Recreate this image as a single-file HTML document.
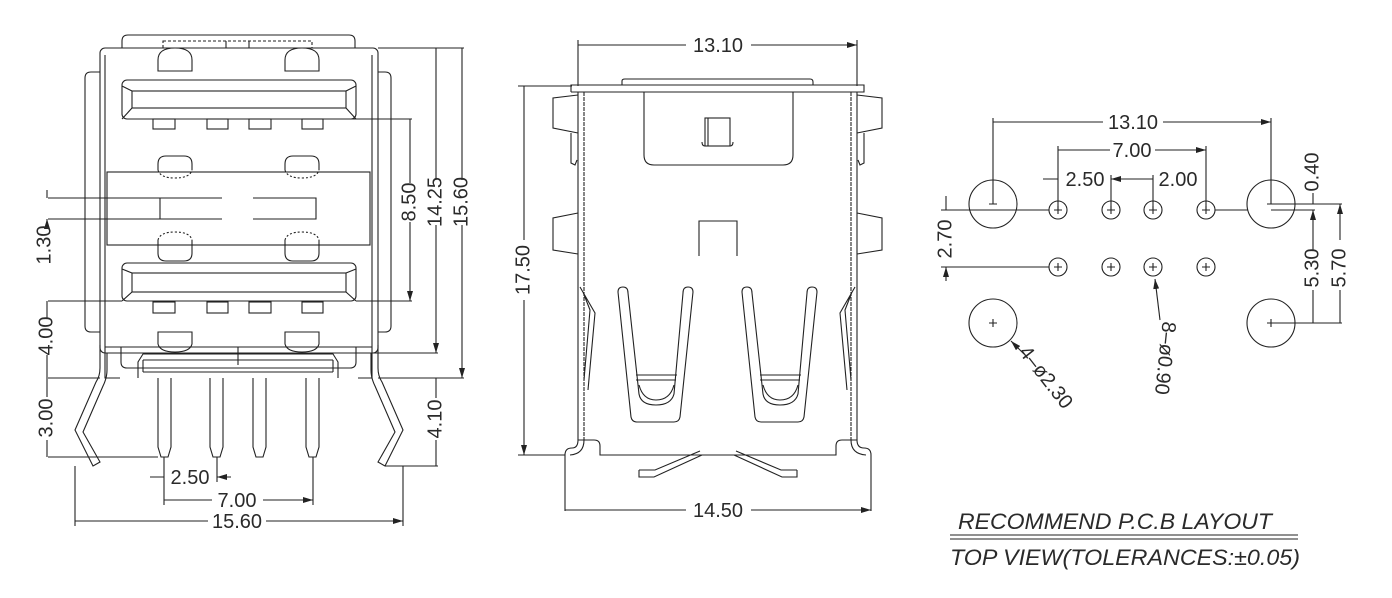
<!DOCTYPE html>
<html><head><meta charset="utf-8"><style>
html,body{margin:0;padding:0;background:#fff;}
svg{display:block;}
text{font-family:"Liberation Sans",sans-serif;fill:#2a2a2a;}
</style></head><body>
<svg width="1392" height="598" viewBox="0 0 1392 598" xmlns="http://www.w3.org/2000/svg">
<defs>
<marker id="a" viewBox="0 0 10 6" refX="10" refY="3" markerWidth="10" markerHeight="6" markerUnits="userSpaceOnUse" orient="auto-start-reverse"><path d="M0,0 L10,3 L0,6 Z" fill="#222"/></marker>
</defs>
<g fill="none" stroke="#222" stroke-width="1.1">
<!-- ================= LEFT VIEW ================= -->
<path d="M122,48 V41 Q122,35 128,35 H349 Q355,35 355,41 V48"/>
<rect x="163" y="41" width="149" height="7" stroke-dasharray="3,2"/>
<path d="M226,41 V48 M249,41 V48"/>
<rect x="100" y="48" width="278" height="305" rx="5"/>
<path d="M105,55 V353 M372,55 V353"/>
<path d="M100,72 H91 Q85,72 85,78 V326 Q85,332 91,332 H100"/>
<path d="M378,72 H385 Q391,72 391,78 V326 Q391,332 385,332 H378"/>
<rect x="122" y="80" width="234" height="39" rx="5"/>
<rect x="132" y="91" width="214" height="17"/>
<path d="M122,86 L132,91 M356,86 L346,91 M122,119 L132,108 M356,119 L346,108"/>
<rect x="122" y="263" width="234" height="38" rx="5"/>
<rect x="132" y="273" width="214" height="19"/>
<path d="M122,269 L132,273 M356,269 L346,273 M122,301 L132,292 M356,301 L346,292"/>
<rect x="153" y="119" width="22" height="10"/><rect x="207" y="119" width="21" height="10"/><rect x="249" y="119" width="22" height="10"/><rect x="302" y="119" width="21" height="10"/>
<rect x="153" y="302" width="22" height="11"/><rect x="207" y="302" width="21" height="11"/><rect x="249" y="302" width="22" height="11"/><rect x="302" y="302" width="21" height="11"/>
<path d="M158,71 V60 Q158,48 175,48 Q192,48 192,60 V71 Z"/>
<path d="M285,71 V60 Q285,48 302,48 Q319,48 319,60 V71 Z"/>
<path d="M158,170 V164 Q158,156 166,156 H184 Q192,156 192,164 V170"/>
<path d="M285,170 V164 Q285,156 293,156 H311 Q319,156 319,164 V170"/>
<path d="M158,170 Q160,178 175,178 Q190,178 192,170 M285,170 Q287,178 302,178 Q317,178 319,170" stroke-dasharray="2,2"/>
<path d="M158,240 Q160,232 175,232 Q190,232 192,240 M285,240 Q287,232 302,232 Q317,232 319,240" stroke-dasharray="2,2"/>
<path d="M158,240 V253 Q158,261 166,261 H184 Q192,261 192,253 V240"/>
<path d="M285,240 V253 Q285,261 293,261 H311 Q319,261 319,253 V240"/>
<path d="M158,332 V344 Q160,352 175,352 Q190,352 192,344 V332 Z"/>
<path d="M285,332 V344 Q287,352 302,352 Q317,352 319,344 V332 Z"/>
<rect x="107" y="172" width="263" height="73"/>
<path d="M48,198 H222 M48,219 H222 M253,198 H316 V219 H253 M160,198 V219"/>
<path d="M105,347 H372"/>
<path d="M121,347 V362 Q121,368 127,368 H350 Q356,368 356,362 V347"/>
<path d="M138,378 V362 L143,354 H333 L338,362 V378 M143,360 H333 M143,372 H333 M143,360 V372 M333,360 V372 M238,347 V365"/>
<path d="M105,353 V378 H120 M372,353 V378 H358"/>
<path d="M100,345 V368 Q100,376 96,382 L75,430 L93,466 L100,462 L83,432 L103,386 Q107,378 107,370 V353"/>
<path d="M378,345 V368 Q378,376 382,382 L403,430 L385,466 L378,462 L395,432 L375,386 Q371,378 371,370 V353"/>
<path d="M158,378 V447 L161,457 H168 L171,447 V378"/>
<path d="M210,378 V447 L213,457 H220 L223,447 V378"/>
<path d="M253,378 V447 L256,457 H263 L266,447 V378"/>
<path d="M306,378 V447 L309,457 H316 L319,447 V378"/>
<path d="M48,378 H100 M48,457 H158 M48,301 H122"/>
<path d="M47,190 V198 M47,227 V219" marker-end="url(#a)"/>
<path d="M47,301 V318 M47,355 V378 M47,378 V397 M47,440 V457"/>
<path d="M340,119 H412 M356,301 H412 M378,48 H464 M372,353 H438 M378,378 H464 M385,466 H438"/>
<path d="M410,183 V119 M410,222 V301" marker-end="url(#a)"/>
<path d="M436,180 V48 M436,225 V353" marker-end="url(#a)"/>
<path d="M462,180 V48 M462,225 V378" marker-end="url(#a)"/>
<path d="M436,398 V378 M436,440 V466"/>
<path d="M164,457 V482 M217,457 V482 M313,457 V505 M164,482 V505 M75,466 V526 M403,466 V526"/>
<path d="M150,477 H164 M231,477 H217" marker-end="url(#a)"/>
<path d="M212,500 H164 M263,500 H313" marker-end="url(#a)"/>
<path d="M208,521 H75 M266,521 H403" marker-end="url(#a)"/>

<!-- ================= MIDDLE VIEW ================= -->
<path d="M578,40 V86 M857,40 V86"/>
<path d="M686,45 H578 M751,45 H857" marker-end="url(#a)"/>
<path d="M622,85 V81 Q622,79 625,79 H810 Q813,79 813,82 V85"/>
<path d="M571,92 V85 H864 V92 H571"/>
<path d="M578,92 V440 M857,92 V440"/>
<path d="M584,92 V440 M851,92 V440" stroke-dasharray="4,1"/>
<path d="M644,92 V155 Q644,165 654,165 H783 Q793,165 793,155 V92"/>
<rect x="705" y="118" width="25" height="28"/>
<path d="M708,118 V146 M702,142 Q702,146 705,146 M730,146 Q733,146 733,142"/>
<path d="M578,95 L553,98 V128 L578,133 M571,133 V163 L575,165 L577,160"/>
<path d="M578,213 L553,218 V250 L578,254"/>
<path d="M857,95 L882,98 V128 L857,133 M864,133 V163 L860,165 L858,160"/>
<path d="M857,213 L882,218 V250 L857,254"/>
<path d="M699,256 V221 H737 V256"/>
<path d="M618,292 Q618,287 623,287 Q628,287 628,293 L639,394 Q641,405 656,405 Q671,405 674,394 L683,293 Q683,287 688,287 Q693,287 693,292 L680,417 Q679,422 674,422 H637 Q632,422 631,417 Z"/>
<path d="M636,375 H677 M636,380 H676 M639,385 Q643,400 656,400 Q670,400 674,385"/>
<path d="M742,292 Q742,287 747,287 Q752,287 752,293 L763,394 Q765,405 780,405 Q795,405 798,394 L807,293 Q807,287 812,287 Q817,287 817,292 L804,417 Q803,422 798,422 H761 Q756,422 755,417 Z"/>
<path d="M760,375 H801 M760,380 H800 M763,385 Q767,400 780,400 Q794,400 798,385"/>
<path d="M580,287 L595,313 L588,390 M583,292 L590,310 L584,380"/>
<path d="M855,287 L840,313 L847,390 M852,292 L845,310 L851,380"/>
<path d="M565,511 V455 Q565,448 572,448 Q578,448 578,440 H594 Q600,440 600,446 V455 H836 V446 Q836,440 842,440 H857 Q857,448 864,448 Q871,448 871,455 V511"/>
<path d="M584,440 Q584,454 570,455 M851,440 Q851,454 866,455"/>
<path d="M639,470 V477 H654 L702,455 M797,470 V477 H782 L734,455 M639,470 H655 L700,451 M797,470 H781 L736,451"/>
<path d="M518,86 H572 M518,455 H565"/>
<path d="M524,240 V86 M524,300 V455" marker-end="url(#a)"/>
<path d="M686,510 H565 M751,510 H871" marker-end="url(#a)"/>

<!-- ================= RIGHT VIEW ================= -->
<circle cx="993" cy="204" r="24"/><circle cx="1271" cy="204" r="24"/>
<circle cx="993" cy="323" r="24"/><circle cx="1271" cy="323" r="24"/>
<circle cx="1058" cy="210" r="9"/><circle cx="1111" cy="210" r="9"/><circle cx="1153" cy="210" r="9"/><circle cx="1206" cy="210" r="9"/>
<circle cx="1058" cy="267" r="9"/><circle cx="1111" cy="267" r="9"/><circle cx="1153" cy="267" r="9"/><circle cx="1206" cy="267" r="9"/>
<path d="M989,204 H997 M1267,204 H1275 M993,319 V327 M989,323 H997 M1271,319 V327 M1267,323 H1275 M1054,210 H1062 M1058,206 V214 M1107,210 H1115 M1111,206 V214 M1149,210 H1157 M1153,206 V214 M1202,210 H1210 M1206,206 V214 M1054,267 H1062 M1058,263 V271 M1107,267 H1115 M1111,263 V271 M1149,267 H1157 M1153,263 V271 M1202,267 H1210 M1206,263 V271"/>
<path d="M993,118 V204 M1271,118 V204 M1058,146 V210 M1206,146 V210 M1111,175 V210 M1153,175 V210"/>
<path d="M1103,122 H993 M1163,122 H1271" marker-end="url(#a)"/>
<path d="M1110,150 H1058 M1155,150 H1206" marker-end="url(#a)"/>
<path d="M1043,179 H1058 M1153,179 H1111" marker-end="url(#a)"/>
<path d="M941,210 H1049 M941,267 H1049 M1215,210 H1248 M1271,204 H1342 M1271,210 H1315 M1271,323 H1342"/>
<path d="M946,196 V210 M946,281 V267" marker-end="url(#a)"/>
<path d="M1313,193 V204 M1313,250 V210" marker-end="url(#a)"/>
<path d="M1313,290 V323 M1340,240 V204" marker-end="url(#a)"/>
<path d="M1340,290 V323"/>
<path d="M1024,354 L1011,341" marker-end="url(#a)"/>
<path d="M1160,320 L1155,279" marker-end="url(#a)"/>
<path d="M950,535 H1298 M950,539 H1298"/>
</g>

<g font-size="20">
<text x="45" y="245" transform="rotate(-90 45 245)" text-anchor="middle" dominant-baseline="middle">1.30</text>
<text x="47" y="336" transform="rotate(-90 47 336)" text-anchor="middle" dominant-baseline="middle">4.00</text>
<text x="47" y="418" transform="rotate(-90 47 418)" text-anchor="middle" dominant-baseline="middle">3.00</text>
<text x="410" y="202" transform="rotate(-90 410 202)" text-anchor="middle" dominant-baseline="middle">8.50</text>
<text x="436" y="202" transform="rotate(-90 436 202)" text-anchor="middle" dominant-baseline="middle">14.25</text>
<text x="462" y="202" transform="rotate(-90 462 202)" text-anchor="middle" dominant-baseline="middle">15.60</text>
<text x="436" y="419" transform="rotate(-90 436 419)" text-anchor="middle" dominant-baseline="middle">4.10</text>
<text x="190" y="484" text-anchor="middle">2.50</text>
<text x="237" y="507" text-anchor="middle">7.00</text>
<text x="237" y="528" text-anchor="middle">15.60</text>
<text x="718" y="52" text-anchor="middle">13.10</text>
<text x="524" y="270" transform="rotate(-90 524 270)" text-anchor="middle" dominant-baseline="middle">17.50</text>
<text x="718" y="517" text-anchor="middle">14.50</text>
<text x="1133" y="129" text-anchor="middle">13.10</text>
<text x="1132" y="157" text-anchor="middle">7.00</text>
<text x="1085" y="186" text-anchor="middle">2.50</text>
<text x="1178" y="186" text-anchor="middle">2.00</text>
<text x="946" y="239" transform="rotate(-90 946 239)" text-anchor="middle" dominant-baseline="middle">2.70</text>
<text x="1313" y="172" transform="rotate(-90 1313 172)" text-anchor="middle" dominant-baseline="middle">0.40</text>
<text x="1313" y="268" transform="rotate(-90 1313 268)" text-anchor="middle" dominant-baseline="middle">5.30</text>
<text x="1340" y="268" transform="rotate(-90 1340 268)" text-anchor="middle" dominant-baseline="middle">5.70</text>
<text x="1045" y="378" transform="rotate(52 1045 378)" text-anchor="middle" dominant-baseline="middle">4–ø2.30</text>
<text x="1164" y="358" transform="rotate(96 1164 358)" text-anchor="middle" dominant-baseline="middle">8–ø0.90</text>
<text x="958" y="529" font-style="italic" font-size="22" textLength="314" lengthAdjust="spacingAndGlyphs">RECOMMEND  P.C.B  LAYOUT</text>
<text x="950" y="565" font-style="italic" font-size="22" textLength="350" lengthAdjust="spacingAndGlyphs">TOP  VIEW(TOLERANCES:±0.05)</text>
</g>
</svg>
</body></html>
